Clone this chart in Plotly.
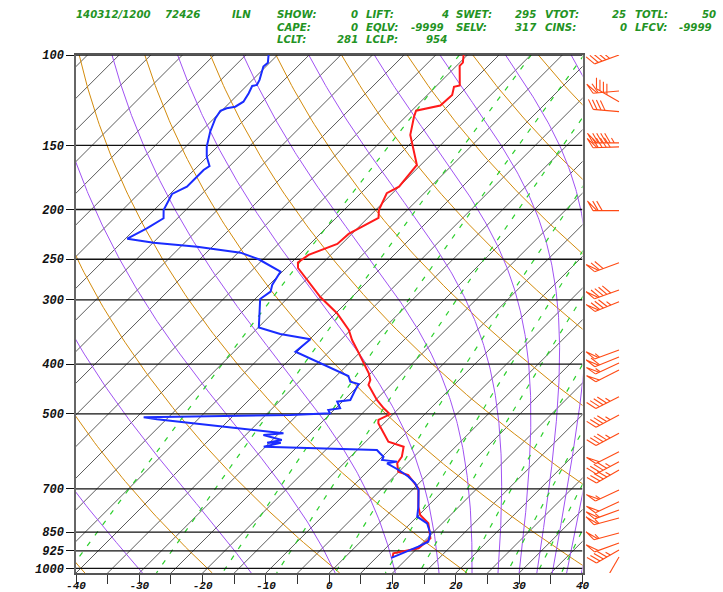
import re
import numpy as np
import plotly.graph_objects as go

# ---------------- data ----------------
P_T = [100, 103.5, 105, 114.6, 115.3, 119.6, 125.4, 128.4, 131.8, 143.1, 163.8, 180.5, 185.9,
       200.4, 207.7, 223.1, 233.4, 240.8, 245.2, 253.6, 260.0, 296.1, 318.5, 343.3, 359.1,
       375.6, 398.6, 416.9, 429.6, 439.4, 470.0, 487.8, 501.1, 514.1, 521.7, 545.7, 566.7,
       579.5, 606.2, 624.3, 648.3, 658.0, 698.4, 758.5, 787.3, 817.2, 874.1, 914.2, 934.9, 954]
T = [-60.6, -59.5, -59.5, -56.4, -57.1, -56.1, -56.3, -59.3, -58.7, -56.4, -50.6, -50.0, -50.9,
     -49.5, -48.3, -50.5, -50.7, -52.4, -53.5, -54.0, -53.1, -45.0, -39.8, -35.3, -33.2,
     -30.8, -27.7, -25.3, -24.0, -23.5, -19.8, -17.4, -15.5, -16.4, -15.9, -13.5, -11.4,
     -8.2, -6.9, -6.6, -5.1, -3.0, 0.7, 3.6, 5.2, 7.8, 10.5, 10.2, 7.0, 7.6]

P_TD = [100, 103.5, 105.3, 111.8, 114.4, 114.9, 118.7, 123.3, 126.1, 127.0, 128.4, 132.8, 141.1,
        150.8, 157.8, 164.5, 167.5, 180.5, 186.5, 194.5, 200.4, 208.0, 217.5, 228.0, 232.1,
        236.3, 242.7, 250.0, 264.3, 280.6, 289.1, 298.7, 339.5, 349.5, 357.9, 378.4, 395.8,
        422.0, 432.9, 437.5, 449.4, 470.0, 473.6, 487.8, 491.5, 498.9, 502.7, 508.0, 512.5,
        545.7, 549.9, 562.4, 569.2, 569.6, 579.5, 583.7, 586.3, 588.2, 596.9, 606.2, 615.2,
        619.7, 624.3, 643.4, 663.0, 682.9, 703.8, 758.5, 793.3, 817.2, 854.7, 887.5, 907.6,
        928.2, 954]
TD = [-91.4, -90.3, -90.4, -88.9, -88.5, -89.1, -88.5, -88.0, -88.5, -89.6, -90.2, -89.8, -88.5,
      -86.7, -85.1, -83.2, -83.5, -83.5, -84.7, -84.0, -83.5, -82.2, -83.2, -84.7, -79.9,
      -72.4, -64.6, -60.7, -55.3, -54.5, -53.7, -54.2, -49.9, -45.5, -39.9, -40.3, -35.3,
      -28.1, -26.9, -25.2, -24.8, -24.0, -25.8, -24.3, -25.9, -25.1, -31.1, -53.9, -51.5,
      -29.3, -32.2, -28.5, -30.4, -28.2, -30.3, -20.1, -14.1, -11.9, -10.9, -9.8, -9.5,
      -6.9, -8.2, -5.3, -2.7, -0.6, 1.0, 3.6, 5.0, 7.6, 9.7, 10.7, 9.9,
      8.9, 7.4]

P_WIND = [100, 117.5, 123.3, 128.9, 148.3, 151, 201, 254, 286.9, 302.4, 375.6, 387.6, 398,
          410.8, 463, 502.7, 545.7, 592.7, 619.9, 643.4, 703.8, 741.7, 769.8, 798, 853.5,
          892.7, 921.2, 950.6]
WDIR = [250, 265, 300, 275, 270, 268, 270, 250, 250, 248, 250, 248, 245,
        243, 243, 242, 242, 243, 242, 240, 245, 245, 250, 255, 255,
        250, 240, 210]
WSPD = [45, 60, 40, 40, 95, 90, 70, 70, 90, 85, 55, 60, 55,
        50, 45, 45, 45, 50, 45, 45, 55, 50, 55, 55, 55,
        50, 45, 10]

PRESS_LEVELS = [100, 150, 200, 250, 300, 400, 500, 700, 850, 925, 1000]
X_TICKS = list(range(-40, 45, 5))

ISOTHERMS = list(range(-125, 45, 5))
DRY_THETA = list(range(-40, 200, 20))
MOIST_THETAE = list(range(-30, 210, 20))
MIX_RATIOS = [0.1, 0.4, 1, 2, 4, 7, 10, 16, 24, 32, 40]

HEADER = [
    "140312/1200 72426    ILN   SHOW:     0 LIFT:     4 SWET:   295 VTOT:    25 TOTL:    50",
    " " * 27 + "CAPE:     0 EQLV: -9999 SELV:   317 CINS:     0 LFCV: -9999",
    " " * 27 + "LCLT:   281 LCLP:   954",
]

# ---------------- geometry ----------------
W, H = 723, 592
ML, MT, MB = 76, 55, 19
DIAG_R = 582.5
BARB_R = 650
MR = W - BARB_R
plot_w = BARB_R - ML
plot_h = H - MT - MB
diag_frac = (DIAG_R - ML) / plot_w
PX_PER_LN = 513.3 / np.log(10)
P_TOP = 100.0
P_BOT = P_TOP * np.exp(plot_h / PX_PER_LN)
PX_PER_C = (DIAG_R - ML) / 80.0
SKEW = PX_PER_LN / PX_PER_C


def skx(t, p):
    # skewed x coordinate, temperature axis referenced to the bottom edge
    return np.asarray(t) + SKEW * np.log(P_BOT / np.asarray(p))


def es(tc):
    return 6.112 * np.exp(17.67 * tc / (tc + 243.5))


def td_from_e(e):
    a = np.log(e / 6.112)
    return 243.5 * a / (17.67 - a)


def moist_dtdp(p, tk):
    Rd, cp, Lv, eps = 287.04, 1005.7, 2.501e6, 0.622
    e = es(tk - 273.15)
    r = eps * e / (p - e)
    num = Rd * tk + Lv * r
    den = cp + (Lv * Lv * r * eps) / (Rd * tk * tk)
    return num / den / p


def moist_line(theta_e_c):
    ps = np.geomspace(P_TOP, P_BOT, 240)
    tk = (theta_e_c + 273.15) * (P_TOP / 1000.0) ** 0.2857
    out = [tk]
    for i in range(len(ps) - 1):
        p0, h = ps[i], ps[i + 1] - ps[i]
        k1 = moist_dtdp(p0, tk)
        k2 = moist_dtdp(p0 + h / 2, tk + h / 2 * k1)
        k3 = moist_dtdp(p0 + h / 2, tk + h / 2 * k2)
        k4 = moist_dtdp(p0 + h, tk + h * k3)
        tk = tk + h / 6 * (k1 + 2 * k2 + 2 * k3 + k4)
        out.append(tk)
    return ps, np.array(out) - 273.15


fig = go.Figure()
pgrid = np.geomspace(P_TOP, P_BOT, 120)


def add_lines(xs_list, ps_list, color, width, dash=None):
    xs, ys = [], []
    for x, p in zip(xs_list, ps_list):
        xs += list(x) + [None]
        ys += list(p) + [None]
    fig.add_trace(go.Scatter(x=xs, y=ys, mode="lines", hoverinfo="skip", showlegend=False,
                             line=dict(color=color, width=width, dash=dash)))


# isotherms
add_lines([skx(np.full(2, t), [P_BOT, P_TOP]) for t in ISOTHERMS],
          [[P_BOT, P_TOP] for _ in ISOTHERMS], "#4a4a4a", 0.9)
# dry adiabats
add_lines([skx((th + 273.15) * (pgrid / 1000.0) ** 0.2857 - 273.15, pgrid) for th in DRY_THETA],
          [pgrid for _ in DRY_THETA], "#d38b0c", 1.0)
# moist adiabats
ml = [moist_line(te) for te in MOIST_THETAE]
add_lines([skx(t, p) for p, t in ml], [p for p, t in ml], "#a052f2", 1.0)
# mixing ratio lines
mx = []
for w in MIX_RATIOS:
    e = (w / 1000.0) * pgrid / (0.622 + w / 1000.0)
    mx.append(skx(td_from_e(e), pgrid))
add_lines(mx, [pgrid for _ in MIX_RATIOS], "#2ccf2c", 1.2, dash="5px,8px")
# pressure lines
add_lines([[-40, 40] for _ in PRESS_LEVELS], [[p, p] for p in PRESS_LEVELS], "#111111", 1.3)

# profiles
fig.add_trace(go.Scatter(x=skx(T, P_T), y=P_T, mode="lines", showlegend=False,
                         line=dict(color="#ff1a1a", width=2)))
fig.add_trace(go.Scatter(x=skx(TD, P_TD), y=P_TD, mode="lines", showlegend=False,
                         line=dict(color="#1a2cff", width=2)))

# wind barbs
BARB_X0 = 619.0
STAFF = 26.0
SPACE = 4.0
FLEN = 11.0


def to_xp(x0, p0, dx, dy_up):
    return x0 + dx, p0 * np.exp(-dy_up / PX_PER_LN)


bx, by = [], []
for p0, d, s in zip(P_WIND, WDIR, WSPD):
    r = np.deg2rad(d)
    ux, uy = np.sin(r), np.cos(r)
    c, sn = np.cos(np.deg2rad(60)), np.sin(np.deg2rad(60))
    fx, fy = ux * c + uy * sn, -ux * sn + uy * c
    x1, p1 = to_xp(BARB_X0, p0, ux * STAFF, uy * STAFF)
    bx += [BARB_X0, x1, None]
    by += [p0, p1, None]
    spd = int(round(s / 5.0) * 5)
    n50 = spd // 50
    n10 = (spd - 50 * n50) // 10
    n5 = (spd - 50 * n50 - 10 * n10) // 5
    t = STAFF
    for _ in range(n50):
        a = to_xp(BARB_X0, p0, ux * t, uy * t)
        b = to_xp(BARB_X0, p0, ux * t + fx * FLEN, uy * t + fy * FLEN)
        cc = to_xp(BARB_X0, p0, ux * (t - SPACE), uy * (t - SPACE))
        bx += [a[0], b[0], cc[0], None]
        by += [a[1], b[1], cc[1], None]
        t -= SPACE * 1.3
    for _ in range(n10):
        a = to_xp(BARB_X0, p0, ux * t, uy * t)
        b = to_xp(BARB_X0, p0, ux * t + fx * FLEN, uy * t + fy * FLEN)
        bx += [a[0], b[0], None]
        by += [a[1], b[1], None]
        t -= SPACE
    for _ in range(n5):
        if n50 == 0 and n10 == 0:
            t -= SPACE
        a = to_xp(BARB_X0, p0, ux * t, uy * t)
        b = to_xp(BARB_X0, p0, ux * t + fx * FLEN / 2, uy * t + fy * FLEN / 2)
        bx += [a[0], b[0], None]
        by += [a[1], b[1], None]

fig.add_trace(go.Scatter(x=bx, y=by, xaxis="x2", yaxis="y2", mode="lines", showlegend=False,
                         hoverinfo="skip", line=dict(color="#ff4a14", width=1.1)))

# ---------------- layout ----------------
lab_font = dict(family="Liberation Mono", size=12, color="#111111", weight="bold", style="italic")
xlab_font = dict(family="Liberation Mono", size=11, color="#111111", weight="bold", style="italic")
yr = [np.log10(P_BOT), np.log10(P_TOP)]
fig.update_layout(
    width=W, height=H, margin=dict(l=ML, r=MR, t=MT, b=MB, pad=0, autoexpand=False),
    paper_bgcolor="white", plot_bgcolor="white",
    xaxis=dict(domain=[0, diag_frac], range=[-40, 40], tickvals=X_TICKS,
               ticktext=[str(v) if v % 10 == 0 else "" for v in X_TICKS],
               ticks="outside", ticklen=9, tickcolor="#333", tickwidth=1.2,
               ticklabelstandoff=-8,
               showgrid=False, zeroline=False, showline=True, mirror=True, automargin=False,
               linecolor="#555", linewidth=1.5, tickfont=xlab_font, anchor="y"),
    yaxis=dict(type="log", range=yr, tickvals=PRESS_LEVELS, ticktext=[str(v) for v in PRESS_LEVELS],
               ticks="outside", ticklen=8, tickcolor="#111", tickwidth=1.3, automargin=False,
               showgrid=False, zeroline=False, showline=True, mirror=True,
               linecolor="#666", linewidth=1.5, tickfont=lab_font, anchor="x"),
    xaxis2=dict(domain=[diag_frac, 1], range=[DIAG_R, BARB_R], visible=False, anchor="y2",
                automargin=False),
    yaxis2=dict(type="log", range=yr, visible=False, anchor="x2", automargin=False),
)


def pxx(x):
    return (x - ML) / plot_w


def pxy(y):
    return (H - MB - y) / plot_h


HDR_X0, HDR_PITCH = 74.8, 7.45
HDR_Y = [15, 27, 39]
hdr_font = dict(family="DejaVu Sans", size=10.2, color="#239323", weight="bold", style="italic")
for i, line in enumerate(HEADER):
    for m in re.finditer(r"\S+", line):
        fig.add_annotation(x=pxx(HDR_X0 + m.start() * HDR_PITCH), y=pxy(HDR_Y[i]),
                           xref="paper", yref="paper", text=m.group(), showarrow=False,
                           xanchor="left", yanchor="middle", font=hdr_font,
                           borderpad=0)

fig.write_html("out.html")
